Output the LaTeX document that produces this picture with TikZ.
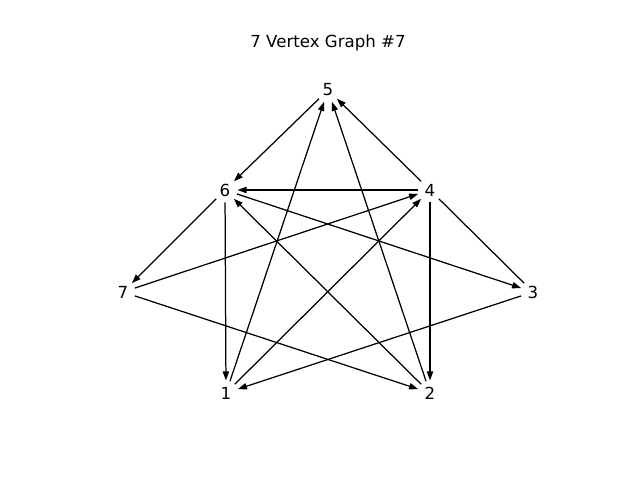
\documentclass[tikz,border=0pt]{standalone}
\usepackage{fontspec}
\setmainfont{DejaVu Sans}
\usetikzlibrary{arrows.meta}

\begin{document}
\begin{tikzpicture}[x=0.254mm,y=-0.254mm,
  vertex/.style={circle,minimum size=6.2mm,inner sep=0pt,font=\fontsize{12}{14}\selectfont},
  edge/.style={-{Triangle[length=2.3mm,width=1.6mm]},line width=0.9pt}]
  \useasboundingbox (0,0) rectangle (640,480);
  \node[font=\fontsize{12}{14}\selectfont] (title) at (328,43) {7 Vertex Graph \#7};
  \node[vertex] (v5) at (328,90)  {5};
  \node[vertex] (v6) at (225,190) {6};
  \node[vertex] (v4) at (430,190) {4};
  \node[vertex] (v7) at (123,292) {7};
  \node[vertex] (v3) at (533,292) {3};
  \node[vertex] (v1) at (226,393) {1};
  \node[vertex] (v2) at (430,393) {2};
  \foreach \a/\b in {5/6,4/5,4/6,6/7,6/1,6/3,2/6,1/5,2/5,7/4,1/4,4/2,3/1,7/2}
   \draw[edge] (v\a) -- (v\b);
  \draw[line width=0.9pt] (v4) -- (v3);
\end{tikzpicture}
\end{document}
